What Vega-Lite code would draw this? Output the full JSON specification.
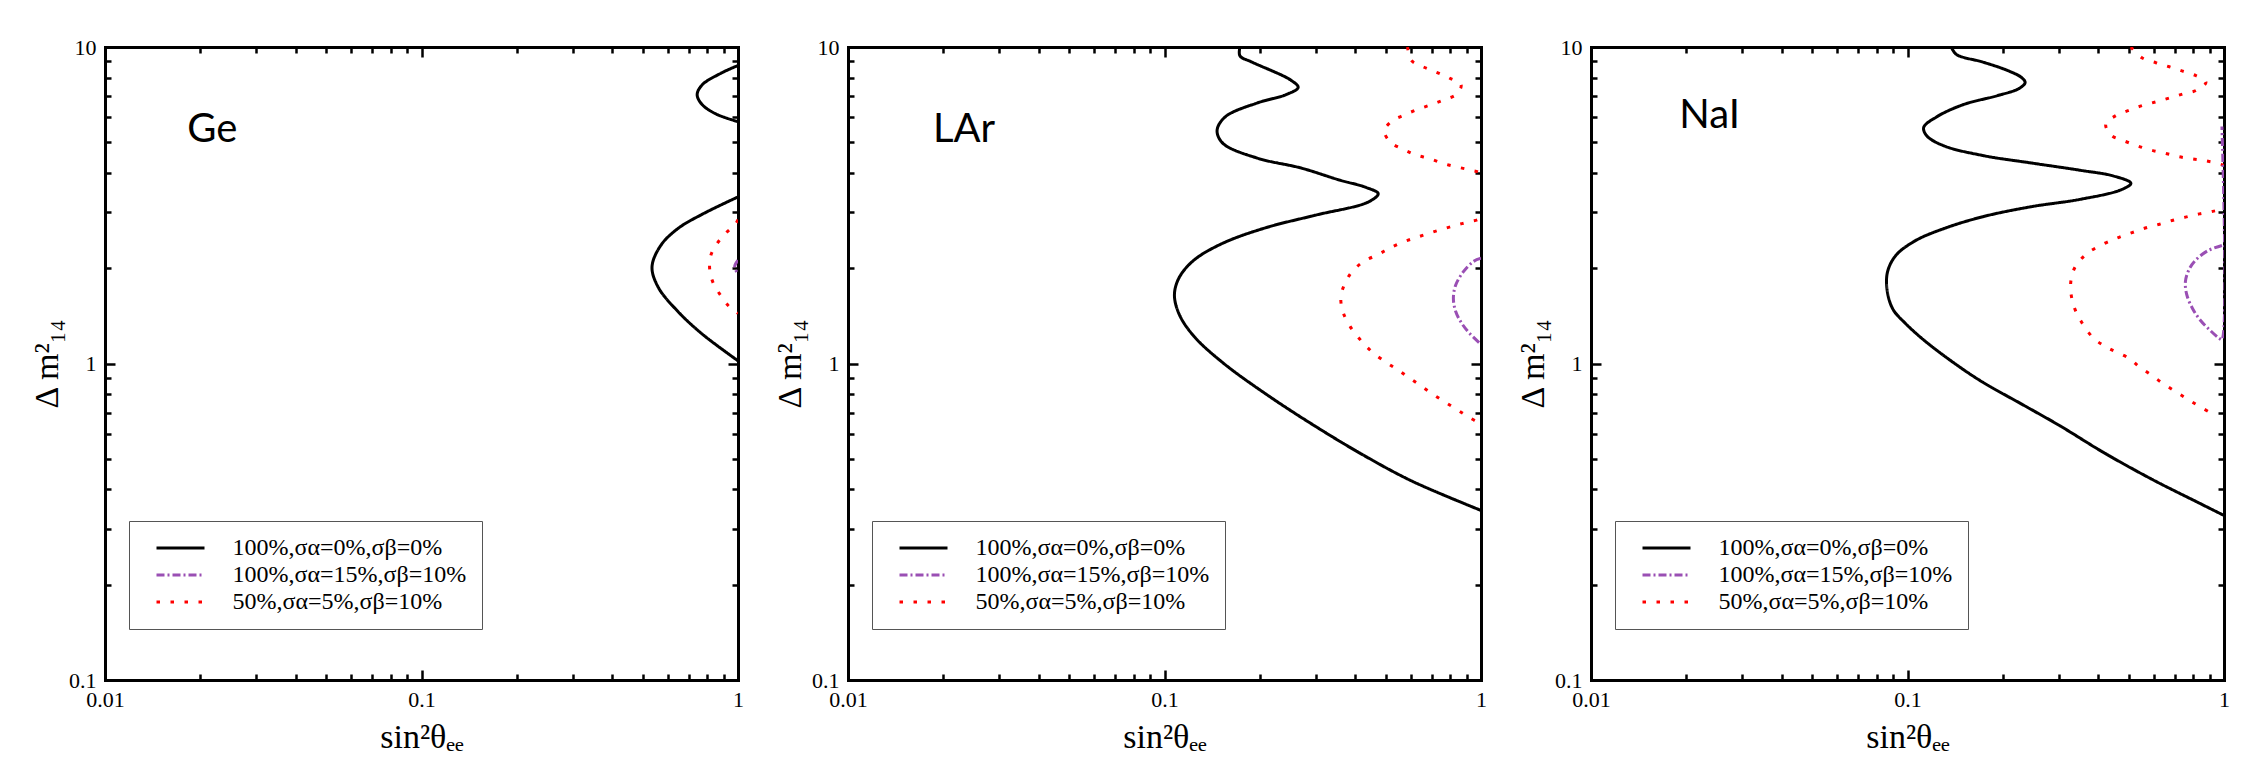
{
  "$schema": "https://vega.github.io/schema/vega-lite/v6.json",
  "background": "white",
  "padding": {"left": 30, "top": 36, "right": 5, "bottom": 0},
  "config": {
    "view": {"stroke": null},
    "font": "Liberation Serif",
    "axis": {
      "domainColor": "black", "domainWidth": 3, "domainCap": "square",
      "tickColor": "black", "tickWidth": 2.5,
      "labelFont": "Liberation Serif", "labelFontSize": 22, "labelColor": "black",
      "titleFont": "Liberation Serif", "titleFontSize": 34, "titleFontWeight": "normal", "titleColor": "black",
      "grid": false, "labelFlush": false, "labelOverlap": false, "format": "~g"
    },
    "legend": {
      "title": null, "orient": "none", "legendX": 24, "legendY": 474, "symbolType": "M-2.4,0H2.4", "symbolSize": 400, "symbolStrokeWidth": 3, "symbolOffset": 24.5, "labelOffset": 40, "padding": 15, "rowPadding": 3, "labelFont": "Liberation Serif", "labelFontSize": 24, "labelColor": "black", "fillColor": "white", "strokeColor": "#555555", "labelLimit": 400
    }
  },
  "datasets": {
    "ge": [
      {"s":"a","g":1,"i":1,"x":1,"y":8.74},{"s":"a","g":1,"i":2,"x":0.887,"y":8.28},{"s":"a","g":1,"i":3,"x":0.77,"y":7.59},{"s":"a","g":1,"i":4,"x":0.743,"y":7.07},{"s":"a","g":1,"i":5,"x":0.77,"y":6.58},{"s":"a","g":1,"i":6,"x":0.856,"y":6.13},{"s":"a","g":1,"i":7,"x":1,"y":5.81},
      {"s":"a","g":2,"i":8,"x":1,"y":3.36},{"s":"a","g":2,"i":9,"x":0.77,"y":2.96},{"s":"a","g":2,"i":10,"x":0.646,"y":2.67},{"s":"a","g":2,"i":11,"x":0.57,"y":2.36},{"s":"a","g":2,"i":12,"x":0.535,"y":2.02},{"s":"a","g":2,"i":13,"x":0.56,"y":1.74},{"s":"a","g":2,"i":14,"x":0.646,"y":1.46},{"s":"a","g":2,"i":15,"x":0.77,"y":1.24},{"s":"a","g":2,"i":16,"x":1,"y":1.02},
      {"s":"b","g":3,"i":17,"x":1,"y":2.12},{"s":"b","g":3,"i":18,"x":0.976,"y":2.02},{"s":"b","g":3,"i":19,"x":1,"y":1.92},
      {"s":"c","g":4,"i":20,"x":1,"y":2.85},{"s":"c","g":4,"i":21,"x":0.98,"y":2.75},{"s":"c","g":4,"i":22,"x":0.918,"y":2.59},{"s":"c","g":4,"i":23,"x":0.858,"y":2.39},{"s":"c","g":4,"i":24,"x":0.82,"y":2.19},{"s":"c","g":4,"i":25,"x":0.814,"y":1.98},{"s":"c","g":4,"i":26,"x":0.836,"y":1.79},{"s":"c","g":4,"i":27,"x":0.882,"y":1.64},{"s":"c","g":4,"i":28,"x":0.934,"y":1.52},{"s":"c","g":4,"i":29,"x":1,"y":1.44}
    ],
    "lar": [
      {"s":"a","g":1,"i":1,"x":0.1731,"y":10},{"s":"a","g":1,"i":2,"x":0.1731,"y":9.38},{"s":"a","g":1,"i":3,"x":0.189,"y":8.96},{"s":"a","g":1,"i":4,"x":0.2506,"y":7.86},{"s":"a","g":1,"i":5,"x":0.2644,"y":7.45},{"s":"a","g":1,"i":6,"x":0.242,"y":7.07},{"s":"a","g":1,"i":7,"x":0.1958,"y":6.65},{"s":"a","g":1,"i":8,"x":0.1557,"y":6.02},{"s":"a","g":1,"i":9,"x":0.1466,"y":5.45},{"s":"a","g":1,"i":10,"x":0.153,"y":4.96},{"s":"a","g":1,"i":11,"x":0.1958,"y":4.46},{"s":"a","g":1,"i":12,"x":0.2691,"y":4.15},{"s":"a","g":1,"i":13,"x":0.3569,"y":3.8},{"s":"a","g":1,"i":14,"x":0.4333,"y":3.6},{"s":"a","g":1,"i":15,"x":0.4733,"y":3.44},{"s":"a","g":1,"i":16,"x":0.441,"y":3.24},{"s":"a","g":1,"i":17,"x":0.2991,"y":2.94},{"s":"a","g":1,"i":18,"x":0.2102,"y":2.69},{"s":"a","g":1,"i":19,"x":0.153,"y":2.4},{"s":"a","g":1,"i":20,"x":0.1238,"y":2.12},{"s":"a","g":1,"i":21,"x":0.1113,"y":1.87},{"s":"a","g":1,"i":22,"x":0.1075,"y":1.65},{"s":"a","g":1,"i":23,"x":0.1113,"y":1.43},{"s":"a","g":1,"i":24,"x":0.1238,"y":1.22},{"s":"a","g":1,"i":25,"x":0.153,"y":1.005},{"s":"a","g":1,"i":26,"x":0.2102,"y":0.798},{"s":"a","g":1,"i":27,"x":0.2991,"y":0.634},{"s":"a","g":1,"i":28,"x":0.4257,"y":0.513},{"s":"a","g":1,"i":29,"x":0.6059,"y":0.4248},{"s":"a","g":1,"i":30,"x":1,"y":0.3434},
      {"s":"b","g":2,"i":31,"x":1,"y":2.15},{"s":"b","g":2,"i":32,"x":0.946,"y":2.1},{"s":"b","g":2,"i":33,"x":0.88,"y":1.95},{"s":"b","g":2,"i":34,"x":0.832,"y":1.77},{"s":"b","g":2,"i":35,"x":0.818,"y":1.61},{"s":"b","g":2,"i":36,"x":0.832,"y":1.46},{"s":"b","g":2,"i":37,"x":0.869,"y":1.34},{"s":"b","g":2,"i":38,"x":0.924,"y":1.24},{"s":"b","g":2,"i":39,"x":1,"y":1.15},
      {"s":"c","g":3,"i":40,"x":0.586,"y":10},{"s":"c","g":3,"i":41,"x":0.6033,"y":9.06},{"s":"c","g":3,"i":42,"x":0.661,"y":8.63},{"s":"c","g":3,"i":43,"x":0.724,"y":8.32},{"s":"c","g":3,"i":44,"x":0.794,"y":7.98},{"s":"c","g":3,"i":45,"x":0.865,"y":7.6},{"s":"c","g":3,"i":46,"x":0.838,"y":7.1},{"s":"c","g":3,"i":47,"x":0.764,"y":6.81},{"s":"c","g":3,"i":48,"x":0.695,"y":6.57},{"s":"c","g":3,"i":49,"x":0.63,"y":6.35},{"s":"c","g":3,"i":50,"x":0.575,"y":6.11},{"s":"c","g":3,"i":51,"x":0.524,"y":5.84},{"s":"c","g":3,"i":52,"x":0.4946,"y":5.43},{"s":"c","g":3,"i":53,"x":0.519,"y":4.99},{"s":"c","g":3,"i":54,"x":0.568,"y":4.75},{"s":"c","g":3,"i":55,"x":0.623,"y":4.56},{"s":"c","g":3,"i":56,"x":0.687,"y":4.44},{"s":"c","g":3,"i":57,"x":0.756,"y":4.29},{"s":"c","g":3,"i":58,"x":0.836,"y":4.18},{"s":"c","g":3,"i":59,"x":0.919,"y":4.09},{"s":"c","g":3,"i":60,"x":1,"y":3.96},{"s":"c","g":3,"i":61,"x":1,"y":2.9},{"s":"c","g":3,"i":62,"x":0.908,"y":2.8},{"s":"c","g":3,"i":63,"x":0.828,"y":2.73},{"s":"c","g":3,"i":64,"x":0.748,"y":2.65},{"s":"c","g":3,"i":65,"x":0.678,"y":2.57},{"s":"c","g":3,"i":66,"x":0.616,"y":2.49},{"s":"c","g":3,"i":67,"x":0.561,"y":2.41},{"s":"c","g":3,"i":68,"x":0.512,"y":2.31},{"s":"c","g":3,"i":69,"x":0.4735,"y":2.21},{"s":"c","g":3,"i":70,"x":0.4257,"y":2.1},{"s":"c","g":3,"i":71,"x":0.3898,"y":1.94},{"s":"c","g":3,"i":72,"x":0.3697,"y":1.77},{"s":"c","g":3,"i":73,"x":0.3607,"y":1.62},{"s":"c","g":3,"i":74,"x":0.366,"y":1.46},{"s":"c","g":3,"i":75,"x":0.3858,"y":1.31},{"s":"c","g":3,"i":76,"x":0.4182,"y":1.18},{"s":"c","g":3,"i":77,"x":0.4568,"y":1.08},{"s":"c","g":3,"i":78,"x":0.508,"y":1.0},{"s":"c","g":3,"i":79,"x":0.551,"y":0.949},{"s":"c","g":3,"i":80,"x":0.599,"y":0.895},{"s":"c","g":3,"i":81,"x":0.649,"y":0.847},{"s":"c","g":3,"i":82,"x":0.707,"y":0.798},{"s":"c","g":3,"i":83,"x":0.77,"y":0.755},{"s":"c","g":3,"i":84,"x":0.84,"y":0.715},{"s":"c","g":3,"i":85,"x":0.917,"y":0.676},{"s":"c","g":3,"i":86,"x":1,"y":0.644}
    ],
    "nai": [
      {"s":"a","g":1,"i":1,"x":0.1376,"y":10},{"s":"a","g":1,"i":2,"x":0.1426,"y":9.48},{"s":"a","g":1,"i":3,"x":0.1731,"y":8.96},{"s":"a","g":1,"i":4,"x":0.2064,"y":8.44},{"s":"a","g":1,"i":5,"x":0.2296,"y":8.0},{"s":"a","g":1,"i":6,"x":0.2353,"y":7.72},{"s":"a","g":1,"i":7,"x":0.2255,"y":7.4},{"s":"a","g":1,"i":8,"x":0.1924,"y":7.02},{"s":"a","g":1,"i":9,"x":0.1503,"y":6.58},{"s":"a","g":1,"i":10,"x":0.1238,"y":6.02},{"s":"a","g":1,"i":11,"x":0.1125,"y":5.57},{"s":"a","g":1,"i":12,"x":0.1153,"y":5.23},{"s":"a","g":1,"i":13,"x":0.1305,"y":4.87},{"s":"a","g":1,"i":14,"x":0.1731,"y":4.54},{"s":"a","g":1,"i":15,"x":0.2464,"y":4.3},{"s":"a","g":1,"i":16,"x":0.3506,"y":4.08},{"s":"a","g":1,"i":17,"x":0.4488,"y":3.91},{"s":"a","g":1,"i":18,"x":0.508,"y":3.71},{"s":"a","g":1,"i":19,"x":0.4733,"y":3.54},{"s":"a","g":1,"i":20,"x":0.3506,"y":3.3},{"s":"a","g":1,"i":21,"x":0.2464,"y":3.13},{"s":"a","g":1,"i":22,"x":0.1731,"y":2.91},{"s":"a","g":1,"i":23,"x":0.1305,"y":2.67},{"s":"a","g":1,"i":24,"x":0.1056,"y":2.44},{"s":"a","g":1,"i":25,"x":0.0917,"y":2.19},{"s":"a","g":1,"i":26,"x":0.0864,"y":1.94},{"s":"a","g":1,"i":27,"x":0.0864,"y":1.68},{"s":"a","g":1,"i":28,"x":0.0901,"y":1.48},{"s":"a","g":1,"i":29,"x":0.0984,"y":1.34},{"s":"a","g":1,"i":30,"x":0.1133,"y":1.18},{"s":"a","g":1,"i":31,"x":0.14,"y":1.005},{"s":"a","g":1,"i":32,"x":0.1731,"y":0.872},{"s":"a","g":1,"i":33,"x":0.2296,"y":0.744},{"s":"a","g":1,"i":34,"x":0.3044,"y":0.634},{"s":"a","g":1,"i":35,"x":0.4182,"y":0.522},{"s":"a","g":1,"i":36,"x":0.5954,"y":0.4294},{"s":"a","g":1,"i":37,"x":0.818,"y":0.366},{"s":"a","g":1,"i":38,"x":1,"y":0.331},
      {"s":"c","g":3,"i":40,"x":0.508,"y":10},{"s":"c","g":3,"i":41,"x":0.55,"y":9.25},{"s":"c","g":3,"i":42,"x":0.609,"y":8.92},{"s":"c","g":3,"i":43,"x":0.672,"y":8.66},{"s":"c","g":3,"i":44,"x":0.74,"y":8.39},{"s":"c","g":3,"i":45,"x":0.812,"y":8.13},{"s":"c","g":3,"i":46,"x":0.877,"y":7.74},{"s":"c","g":3,"i":47,"x":0.818,"y":7.3},{"s":"c","g":3,"i":48,"x":0.742,"y":7.11},{"s":"c","g":3,"i":49,"x":0.672,"y":6.9},{"s":"c","g":3,"i":50,"x":0.609,"y":6.71},{"s":"c","g":3,"i":51,"x":0.552,"y":6.53},{"s":"c","g":3,"i":52,"x":0.501,"y":6.31},{"s":"c","g":3,"i":53,"x":0.455,"y":6.07},{"s":"c","g":3,"i":54,"x":0.423,"y":5.71},{"s":"c","g":3,"i":55,"x":0.44,"y":5.26},{"s":"c","g":3,"i":56,"x":0.481,"y":5.06},{"s":"c","g":3,"i":57,"x":0.53,"y":4.88},{"s":"c","g":3,"i":58,"x":0.585,"y":4.73},{"s":"c","g":3,"i":59,"x":0.649,"y":4.62},{"s":"c","g":3,"i":60,"x":0.715,"y":4.51},{"s":"c","g":3,"i":61,"x":0.792,"y":4.43},{"s":"c","g":3,"i":62,"x":0.873,"y":4.37},{"s":"c","g":3,"i":63,"x":0.967,"y":4.27},{"s":"c","g":3,"i":64,"x":1,"y":4.2},{"s":"c","g":3,"i":65,"x":1,"y":3.1},{"s":"c","g":3,"i":66,"x":0.928,"y":3.03},{"s":"c","g":3,"i":67,"x":0.836,"y":2.97},{"s":"c","g":3,"i":68,"x":0.755,"y":2.9},{"s":"c","g":3,"i":69,"x":0.685,"y":2.83},{"s":"c","g":3,"i":70,"x":0.622,"y":2.75},{"s":"c","g":3,"i":71,"x":0.564,"y":2.68},{"s":"c","g":3,"i":72,"x":0.512,"y":2.59},{"s":"c","g":3,"i":73,"x":0.464,"y":2.5},{"s":"c","g":3,"i":74,"x":0.421,"y":2.4},{"s":"c","g":3,"i":75,"x":0.368,"y":2.22},{"s":"c","g":3,"i":76,"x":0.337,"y":2.0},{"s":"c","g":3,"i":77,"x":0.3275,"y":1.77},{"s":"c","g":3,"i":78,"x":0.3345,"y":1.53},{"s":"c","g":3,"i":79,"x":0.355,"y":1.35},{"s":"c","g":3,"i":80,"x":0.388,"y":1.2},{"s":"c","g":3,"i":81,"x":0.43,"y":1.12},{"s":"c","g":3,"i":82,"x":0.4995,"y":1.04},{"s":"c","g":3,"i":83,"x":0.54,"y":0.976},{"s":"c","g":3,"i":84,"x":0.588,"y":0.921},{"s":"c","g":3,"i":85,"x":0.64,"y":0.866},{"s":"c","g":3,"i":86,"x":0.698,"y":0.819},{"s":"c","g":3,"i":87,"x":0.76,"y":0.776},{"s":"c","g":3,"i":88,"x":0.827,"y":0.737},{"s":"c","g":3,"i":89,"x":0.906,"y":0.699},
      {"s":"b","g":2,"i":90,"x":0.985,"y":2.36},{"s":"b","g":2,"i":91,"x":0.895,"y":2.28},{"s":"b","g":2,"i":92,"x":0.821,"y":2.14},{"s":"b","g":2,"i":93,"x":0.777,"y":1.99},{"s":"b","g":2,"i":94,"x":0.755,"y":1.81},{"s":"b","g":2,"i":95,"x":0.764,"y":1.64},{"s":"b","g":2,"i":96,"x":0.796,"y":1.49},{"s":"b","g":2,"i":97,"x":0.842,"y":1.37},{"s":"b","g":2,"i":98,"x":0.906,"y":1.27},{"s":"b","g":2,"i":99,"x":0.967,"y":1.2},{"s":"b","g":2,"i":100,"x":0.985,"y":1.19},{"s":"b","g":2,"i":101,"x":0.985,"y":5.61}
    ],
    "ge_lab": [{"label":"Ge","x":0.0182,"y":5.46}],
    "lar_lab": [{"label":"LAr","x":0.01855,"y":5.46}],
    "nai_lab": [{"label":"NaI","x":0.019,"y":6.04}]
  },
  "spacing": 110,
  "bounds": "flush",
  "resolve": {"legend": {"color": "independent", "strokeDash": "independent"}},
  "hconcat": [
    {
      "width": 633, "height": 633,
      "layer": [
        {
          "data": {"name": "ge"},
          "mark": {"type": "line", "clip": true, "strokeWidth": 3, "interpolate": "catmull-rom"},
          "encoding": {
            "x": {"field": "x", "type": "quantitative", "scale": {"type": "log", "domain": [0.01, 1]},
              "axis": {"orient": "bottom", "title": "sin²θₑₑ", "titlePadding": 6, "values": [0.01,0.02,0.03,0.04,0.05,0.06,0.07,0.08,0.09,0.1,0.2,0.3,0.4,0.5,0.6,0.7,0.8,0.9,1], "labelExpr": "datum.value==0.01||datum.value==0.1||datum.value==1 ? datum.label : ''", "tickSize": {"condition": {"test": "datum.value==0.01||datum.value==0.1||datum.value==1", "value": -10}, "value": -6}, "labelPadding": 19}},
            "y": {"field": "y", "type": "quantitative", "scale": {"type": "log", "domain": [0.1, 10]},
              "axis": {"orient": "left", "title": "Δ m²₁₄", "titlePadding": 4, "values": [0.1,0.2,0.3,0.4,0.5,0.6,0.7,0.8,0.9,1,2,3,4,5,6,7,8,9,10], "labelExpr": "datum.value==0.1||datum.value==1||datum.value==10 ? datum.label : ''", "tickSize": {"condition": {"test": "datum.value==0.1||datum.value==1||datum.value==10", "value": -10}, "value": -6}, "labelPadding": 19}},
            "color": {"field": "s", "type": "nominal", "scale": {"domain": ["a","b","c"], "range": ["#000000","#9a4fb4","#ff0000"]},
              "legend": {"labelExpr": "datum.value=='a' ? '100%,σα=0%,σβ=0%' : datum.value=='b' ? '100%,σα=15%,σβ=10%' : '50%,σα=5%,σβ=10%'"}},
            "strokeDash": {"field": "s", "type": "nominal", "scale": {"domain": ["a","b","c"], "range": [[1,0],[8,3,2,3],[3.5,10.5]]},
              "legend": {"labelExpr": "datum.value=='a' ? '100%,σα=0%,σβ=0%' : datum.value=='b' ? '100%,σα=15%,σβ=10%' : '50%,σα=5%,σβ=10%'"}},
            "detail": {"field": "g"},
            "order": {"field": "i"}
          }
        },
        {
          "data": {"name": "ge_lab"},
          "mark": {"type": "text", "font": "Lato", "fontSize": 40, "align": "left", "baseline": "middle", "color": "black"},
          "encoding": {
            "x": {"field": "x", "type": "quantitative", "scale": {"type": "log", "domain": [0.01, 1]},
              "axis": {"orient": "top", "title": null, "labels": false, "values": [0.01,0.02,0.03,0.04,0.05,0.06,0.07,0.08,0.09,0.1,0.2,0.3,0.4,0.5,0.6,0.7,0.8,0.9,1], "tickSize": {"condition": {"test": "datum.value==0.01||datum.value==0.1||datum.value==1", "value": -10}, "value": -6}}},
            "y": {"field": "y", "type": "quantitative", "scale": {"type": "log", "domain": [0.1, 10]},
              "axis": {"orient": "right", "title": null, "labels": false, "values": [0.1,0.2,0.3,0.4,0.5,0.6,0.7,0.8,0.9,1,2,3,4,5,6,7,8,9,10], "tickSize": {"condition": {"test": "datum.value==0.1||datum.value==1||datum.value==10", "value": -10}, "value": -6}}},
            "text": {"field": "label"}
          }
        }
      ],
      "resolve": {"axis": {"x": "independent", "y": "independent"}}
    },
    {
      "width": 633, "height": 633,
      "layer": [
        {
          "data": {"name": "lar"},
          "mark": {"type": "line", "clip": true, "strokeWidth": 3, "interpolate": "catmull-rom"},
          "encoding": {
            "x": {"field": "x", "type": "quantitative", "scale": {"type": "log", "domain": [0.01, 1]},
              "axis": {"orient": "bottom", "title": "sin²θₑₑ", "titlePadding": 6, "values": [0.01,0.02,0.03,0.04,0.05,0.06,0.07,0.08,0.09,0.1,0.2,0.3,0.4,0.5,0.6,0.7,0.8,0.9,1], "labelExpr": "datum.value==0.01||datum.value==0.1||datum.value==1 ? datum.label : ''", "tickSize": {"condition": {"test": "datum.value==0.01||datum.value==0.1||datum.value==1", "value": -10}, "value": -6}, "labelPadding": 19}},
            "y": {"field": "y", "type": "quantitative", "scale": {"type": "log", "domain": [0.1, 10]},
              "axis": {"orient": "left", "title": "Δ m²₁₄", "titlePadding": 4, "values": [0.1,0.2,0.3,0.4,0.5,0.6,0.7,0.8,0.9,1,2,3,4,5,6,7,8,9,10], "labelExpr": "datum.value==0.1||datum.value==1||datum.value==10 ? datum.label : ''", "tickSize": {"condition": {"test": "datum.value==0.1||datum.value==1||datum.value==10", "value": -10}, "value": -6}, "labelPadding": 19}},
            "color": {"field": "s", "type": "nominal", "scale": {"domain": ["a","b","c"], "range": ["#000000","#9a4fb4","#ff0000"]},
              "legend": {"labelExpr": "datum.value=='a' ? '100%,σα=0%,σβ=0%' : datum.value=='b' ? '100%,σα=15%,σβ=10%' : '50%,σα=5%,σβ=10%'"}},
            "strokeDash": {"field": "s", "type": "nominal", "scale": {"domain": ["a","b","c"], "range": [[1,0],[8,3,2,3],[3.5,10.5]]},
              "legend": {"labelExpr": "datum.value=='a' ? '100%,σα=0%,σβ=0%' : datum.value=='b' ? '100%,σα=15%,σβ=10%' : '50%,σα=5%,σβ=10%'"}},
            "detail": {"field": "g"},
            "order": {"field": "i"}
          }
        },
        {
          "data": {"name": "lar_lab"},
          "mark": {"type": "text", "font": "Lato", "fontSize": 40, "align": "left", "baseline": "middle", "color": "black"},
          "encoding": {
            "x": {"field": "x", "type": "quantitative", "scale": {"type": "log", "domain": [0.01, 1]},
              "axis": {"orient": "top", "title": null, "labels": false, "values": [0.01,0.02,0.03,0.04,0.05,0.06,0.07,0.08,0.09,0.1,0.2,0.3,0.4,0.5,0.6,0.7,0.8,0.9,1], "tickSize": {"condition": {"test": "datum.value==0.01||datum.value==0.1||datum.value==1", "value": -10}, "value": -6}}},
            "y": {"field": "y", "type": "quantitative", "scale": {"type": "log", "domain": [0.1, 10]},
              "axis": {"orient": "right", "title": null, "labels": false, "values": [0.1,0.2,0.3,0.4,0.5,0.6,0.7,0.8,0.9,1,2,3,4,5,6,7,8,9,10], "tickSize": {"condition": {"test": "datum.value==0.1||datum.value==1||datum.value==10", "value": -10}, "value": -6}}},
            "text": {"field": "label"}
          }
        }
      ],
      "resolve": {"axis": {"x": "independent", "y": "independent"}}
    },
    {
      "width": 633, "height": 633,
      "layer": [
        {
          "data": {"name": "nai"},
          "mark": {"type": "line", "clip": true, "strokeWidth": 3, "interpolate": "catmull-rom"},
          "encoding": {
            "x": {"field": "x", "type": "quantitative", "scale": {"type": "log", "domain": [0.01, 1]},
              "axis": {"orient": "bottom", "title": "sin²θₑₑ", "titlePadding": 6, "values": [0.01,0.02,0.03,0.04,0.05,0.06,0.07,0.08,0.09,0.1,0.2,0.3,0.4,0.5,0.6,0.7,0.8,0.9,1], "labelExpr": "datum.value==0.01||datum.value==0.1||datum.value==1 ? datum.label : ''", "tickSize": {"condition": {"test": "datum.value==0.01||datum.value==0.1||datum.value==1", "value": -10}, "value": -6}, "labelPadding": 19}},
            "y": {"field": "y", "type": "quantitative", "scale": {"type": "log", "domain": [0.1, 10]},
              "axis": {"orient": "left", "title": "Δ m²₁₄", "titlePadding": 4, "values": [0.1,0.2,0.3,0.4,0.5,0.6,0.7,0.8,0.9,1,2,3,4,5,6,7,8,9,10], "labelExpr": "datum.value==0.1||datum.value==1||datum.value==10 ? datum.label : ''", "tickSize": {"condition": {"test": "datum.value==0.1||datum.value==1||datum.value==10", "value": -10}, "value": -6}, "labelPadding": 19}},
            "color": {"field": "s", "type": "nominal", "scale": {"domain": ["a","b","c"], "range": ["#000000","#9a4fb4","#ff0000"]},
              "legend": {"labelExpr": "datum.value=='a' ? '100%,σα=0%,σβ=0%' : datum.value=='b' ? '100%,σα=15%,σβ=10%' : '50%,σα=5%,σβ=10%'"}},
            "strokeDash": {"field": "s", "type": "nominal", "scale": {"domain": ["a","b","c"], "range": [[1,0],[8,3,2,3],[3.5,10.5]]},
              "legend": {"labelExpr": "datum.value=='a' ? '100%,σα=0%,σβ=0%' : datum.value=='b' ? '100%,σα=15%,σβ=10%' : '50%,σα=5%,σβ=10%'"}},
            "detail": {"field": "g"},
            "order": {"field": "i"}
          }
        },
        {
          "data": {"name": "nai_lab"},
          "mark": {"type": "text", "font": "Lato", "fontSize": 40, "align": "left", "baseline": "middle", "color": "black"},
          "encoding": {
            "x": {"field": "x", "type": "quantitative", "scale": {"type": "log", "domain": [0.01, 1]},
              "axis": {"orient": "top", "title": null, "labels": false, "values": [0.01,0.02,0.03,0.04,0.05,0.06,0.07,0.08,0.09,0.1,0.2,0.3,0.4,0.5,0.6,0.7,0.8,0.9,1], "tickSize": {"condition": {"test": "datum.value==0.01||datum.value==0.1||datum.value==1", "value": -10}, "value": -6}}},
            "y": {"field": "y", "type": "quantitative", "scale": {"type": "log", "domain": [0.1, 10]},
              "axis": {"orient": "right", "title": null, "labels": false, "values": [0.1,0.2,0.3,0.4,0.5,0.6,0.7,0.8,0.9,1,2,3,4,5,6,7,8,9,10], "tickSize": {"condition": {"test": "datum.value==0.1||datum.value==1||datum.value==10", "value": -10}, "value": -6}}},
            "text": {"field": "label"}
          }
        }
      ],
      "resolve": {"axis": {"x": "independent", "y": "independent"}}
    }
  ]
}
